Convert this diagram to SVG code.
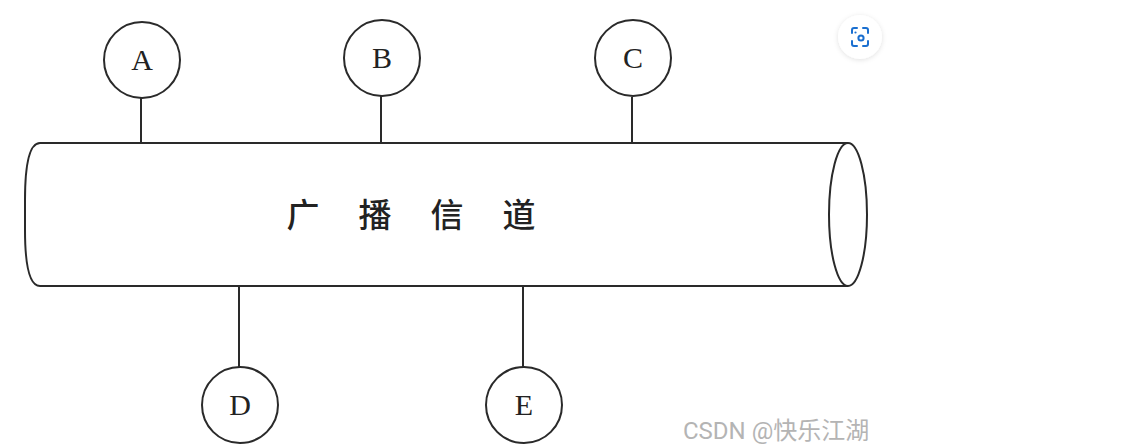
<svg xmlns="http://www.w3.org/2000/svg" width="1138" height="446" viewBox="0 0 1138 446">
<defs>
<style>
.ln{fill:none;stroke:#2a2a2a;stroke-width:2}
.nd{fill:#fff;stroke:#2a2a2a;stroke-width:2}
.lb{font-family:"Liberation Serif",serif;font-size:30px;fill:#222;text-anchor:middle}
.cn{font-family:"Noto Sans CJK SC",sans-serif;font-size:33px;font-weight:500;fill:#222;text-anchor:middle}
</style>
<filter id="sh" x="-50%" y="-50%" width="200%" height="200%"><feDropShadow dx="0" dy="1" stdDeviation="2.5" flood-color="#000" flood-opacity="0.12"/></filter>
</defs>
<rect width="1138" height="446" fill="#fff"/>
<g id="connectors">
<line class="ln" x1="141" y1="98" x2="141" y2="143"/>
<line class="ln" x1="381" y1="96" x2="381" y2="143"/>
<line class="ln" x1="632" y1="97" x2="632" y2="143"/>
<line class="ln" x1="239" y1="286" x2="239" y2="367"/>
<line class="ln" x1="523" y1="286" x2="523" y2="367"/>
</g>
<g id="channel">
<path class="ln" d="M848 143 L40 143 Q25 143 25 200 L25 230 Q25 286 40 286 L848 286"/>
<ellipse class="ln" cx="848" cy="214.5" rx="19" ry="71.5"/>
<text class="cn" x="303 375 447 519" y="227">广播信道</text>
</g>
<g id="A"><circle class="nd" cx="142" cy="60" r="38"/><text class="lb" x="142" y="70">A</text></g>
<g id="B"><circle class="nd" cx="382" cy="58" r="38"/><text class="lb" x="382" y="68">B</text></g>
<g id="C"><circle class="nd" cx="633" cy="58" r="38"/><text class="lb" x="633" y="68">C</text></g>
<g id="D"><circle class="nd" cx="240" cy="405" r="38"/><text class="lb" x="240" y="415">D</text></g>
<g id="E"><circle class="nd" cx="524" cy="405" r="38"/><text class="lb" x="524" y="415">E</text></g>
<g id="icon">
<circle cx="860" cy="37" r="22" fill="#fff" filter="url(#sh)"/>
<g fill="none" stroke="#1a6fd0" stroke-width="2" stroke-linecap="round">
<path d="M852 33 v-3 a2 2 0 0 1 2 -2 h3"/>
<path d="M863 28 h3 a2 2 0 0 1 2 2 v3"/>
<path d="M868 41 v3 a2 2 0 0 1 -2 2 h-3"/>
<path d="M857 46 h-3 a2 2 0 0 1 -2 -2 v-3"/>
<circle cx="861" cy="38" r="2.6"/>
</g>
<circle cx="855.5" cy="32.5" r="1.1" fill="#1a6fd0"/>
</g>
<text x="683" y="439" font-family="Roboto,'Noto Sans CJK SC',sans-serif" font-size="24" fill="#b4b4b4">CSDN @快乐江湖</text>
</svg>
